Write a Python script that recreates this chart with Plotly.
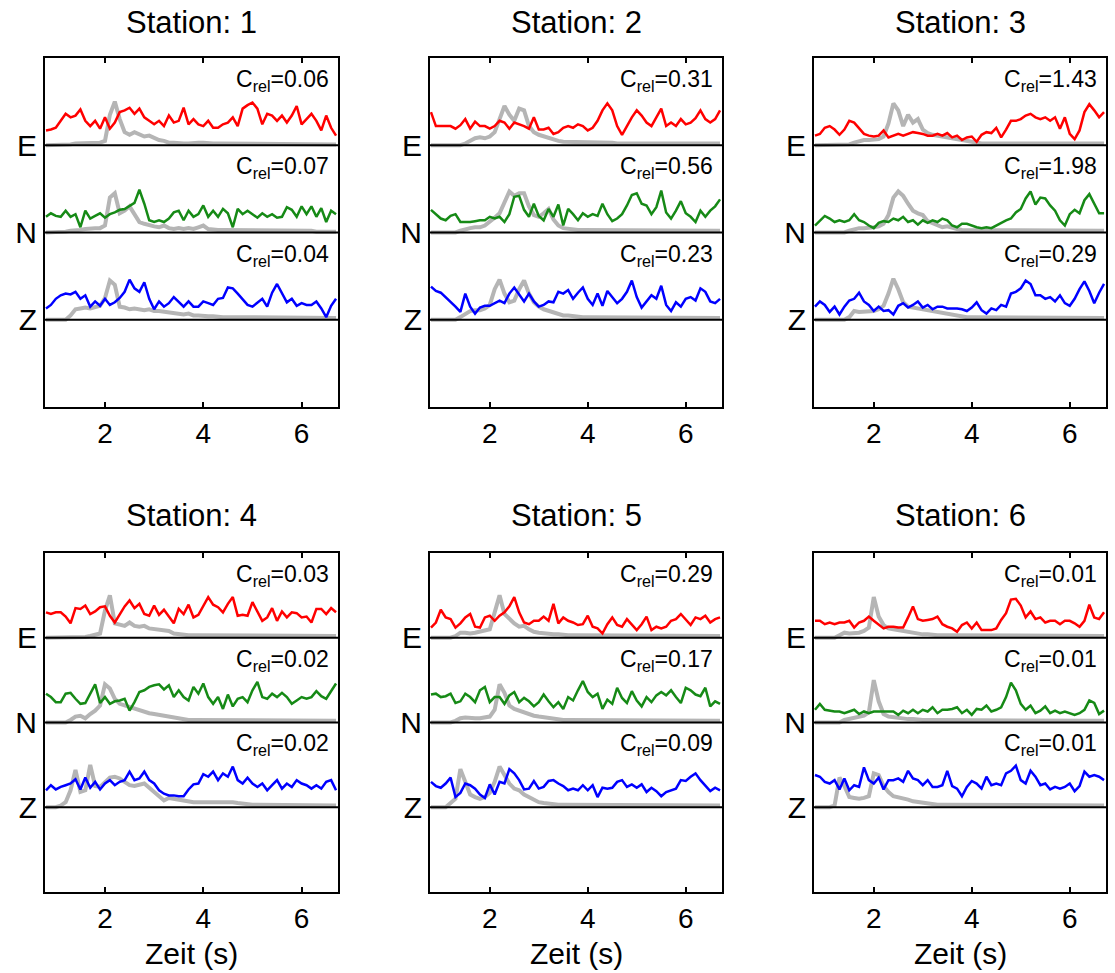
import plotly.graph_objects as go

# ---------------- data ----------------
TIME = [0.8, 0.9, 1.0, 1.1, 1.2, 1.3, 1.4, 1.5, 1.6, 1.7,
        1.8, 1.9, 2.0, 2.1, 2.2, 2.3, 2.4, 2.5, 2.6, 2.7,
        2.8, 2.9, 3.0, 3.1, 3.2, 3.3, 3.4, 3.5, 3.6, 3.7,
        3.8, 3.9, 4.0, 4.1, 4.2, 4.3, 4.4, 4.5, 4.6, 4.7,
        4.8, 4.9, 5.0, 5.1, 5.2, 5.3, 5.4, 5.5, 5.6, 5.7,
        5.8, 5.9, 6.0, 6.1, 6.2, 6.3, 6.4, 6.5, 6.6, 6.7]

STATIONS = ["1", "2", "3", "4", "5", "6"]
COMPONENTS = ["E", "N", "Z"]

C_REL_E = ["0.06", "0.31", "1.43", "0.03", "0.29", "0.01"]
C_REL_N = ["0.07", "0.56", "1.98", "0.02", "0.17", "0.01"]
C_REL_Z = ["0.04", "0.23", "0.29", "0.02", "0.09", "0.01"]

# Station 1
st1_E = [0.17,0.18,0.20,0.28,0.36,0.32,0.34,0.41,0.28,0.22, 0.28,0.19,0.32,0.19,0.26,0.38,0.40,0.43,0.36,0.42,
         0.32,0.28,0.24,0.28,0.22,0.34,0.26,0.28,0.43,0.24, 0.30,0.24,0.22,0.28,0.20,0.20,0.24,0.26,0.32,0.22,
         0.42,0.46,0.49,0.42,0.24,0.36,0.34,0.28,0.34,0.26, 0.34,0.45,0.24,0.30,0.36,0.28,0.17,0.34,0.20,0.11]
st1_E_gray = [0,0,0,0,0.01,0.01,0.02,0.02,0.02,0.02, 0.03,0.03,0.05,0.35,0.50,0.30,0.15,0.12,0.15,0.13,
              0.10,0.11,0.08,0.06,0.05,0.03,0.03,0.02,0.02,0.02, 0.03,0.03,0.03,0.02,0.02,0.02,0.02,0.02,0.02,0.02,
              0.02,0.02,0.01,0.02,0.02,0.01,0.01,0.02,0.01,0.01, 0.01,0.01,0.01,0.01,0.01,0.01,0.01,0.01,0.01,0.01]
st1_N = [0.18,0.22,0.19,0.18,0.25,0.18,0.21,0.06,0.25,0.16, 0.19,0.22,0.17,0.21,0.23,0.26,0.27,0.31,0.34,0.49,
         0.33,0.14,0.12,0.14,0.12,0.16,0.23,0.25,0.14,0.25, 0.18,0.21,0.31,0.18,0.25,0.18,0.27,0.22,0.06,0.27,
         0.21,0.25,0.21,0.17,0.22,0.18,0.21,0.17,0.18,0.29, 0.26,0.18,0.30,0.21,0.30,0.18,0.28,0.12,0.25,0.21]
st1_N_gray = [0,0,0,0,0.01,0.02,0.02,0.03,0.04,0.05, 0.05,0.05,0.08,0.40,0.45,0.22,0.25,0.30,0.20,0.12,
              0.10,0.08,0.07,0.06,0.08,0.05,0.04,0.05,0.04,0.05, 0.04,0.06,0.08,0.04,0.03,0.03,0.03,0.03,0.02,0.02,
              0.02,0.02,0.02,0.02,0.02,0.02,0.02,0.02,0.02,0.02, 0.02,0.02,0.02,0.02,0.02,0.01,0.01,0.01,0.01,0.01]
st1_Z = [0.13,0.17,0.24,0.28,0.30,0.29,0.32,0.24,0.28,0.15, 0.21,0.16,0.24,0.17,0.20,0.25,0.32,0.46,0.36,0.32,
         0.43,0.24,0.12,0.21,0.15,0.19,0.26,0.21,0.15,0.21, 0.15,0.15,0.21,0.19,0.17,0.24,0.25,0.37,0.36,0.30,
         0.24,0.17,0.15,0.19,0.24,0.15,0.31,0.41,0.31,0.20, 0.24,0.16,0.19,0.17,0.17,0.21,0.13,0.03,0.16,0.24]
st1_Z_gray = [0,0,0,0,0,0.05,0.12,0.13,0.14,0.13, 0.14,0.16,0.25,0.45,0.40,0.15,0.14,0.12,0.13,0.12,
              0.11,0.12,0.10,0.10,0.09,0.08,0.08,0.07,0.06,0.07, 0.05,0.05,0.04,0.04,0.04,0.03,0.03,0.03,0.03,0.03,
              0.03,0.03,0.03,0.03,0.03,0.03,0.03,0.03,0.03,0.03, 0.03,0.03,0.03,0.02,0.02,0.02,0.02,0.02,0.02,0.02]

# Station 2
st2_E = [0.38,0.22,0.22,0.22,0.22,0.19,0.23,0.30,0.19,0.27, 0.22,0.22,0.19,0.22,0.28,0.26,0.19,0.26,0.24,0.22,
         0.19,0.32,0.18,0.18,0.20,0.13,0.15,0.20,0.22,0.20, 0.24,0.22,0.17,0.20,0.28,0.40,0.48,0.40,0.22,0.12,
         0.22,0.32,0.40,0.34,0.26,0.22,0.32,0.42,0.22,0.26, 0.22,0.30,0.24,0.26,0.31,0.40,0.30,0.26,0.30,0.40]
st2_E_gray = [0,0,0,0,0,0,0,0.02,0.05,0.08, 0.09,0.08,0.10,0.15,0.30,0.45,0.35,0.28,0.42,0.40,
              0.22,0.15,0.12,0.10,0.08,0.06,0.05,0.04,0.04,0.03, 0.03,0.03,0.03,0.03,0.03,0.03,0.03,0.03,0.02,0.02,
              0.02,0.02,0.02,0.02,0.02,0.02,0.02,0.02,0.02,0.02, 0.02,0.02,0.02,0.02,0.02,0.02,0.02,0.02,0.02,0.02]
st2_N = [0.26,0.21,0.16,0.14,0.19,0.21,0.12,0.12,0.12,0.13, 0.14,0.14,0.18,0.16,0.18,0.12,0.21,0.41,0.42,0.26,
         0.18,0.33,0.19,0.14,0.27,0.18,0.32,0.08,0.27,0.21, 0.14,0.22,0.18,0.21,0.19,0.33,0.21,0.13,0.16,0.21,
         0.31,0.43,0.45,0.33,0.31,0.21,0.29,0.48,0.23,0.16, 0.25,0.36,0.22,0.18,0.12,0.25,0.18,0.25,0.30,0.38]
st2_N_gray = [0,0,0,0,0,0,0.02,0.04,0.05,0.06, 0.06,0.08,0.12,0.17,0.22,0.35,0.47,0.42,0.45,0.45,
              0.30,0.20,0.18,0.22,0.27,0.15,0.08,0.05,0.04,0.04, 0.03,0.03,0.03,0.03,0.03,0.03,0.03,0.03,0.03,0.03,
              0.03,0.03,0.03,0.02,0.02,0.02,0.02,0.02,0.02,0.02, 0.02,0.02,0.02,0.02,0.02,0.02,0.02,0.02,0.02,0.02]
st2_Z = [0.38,0.33,0.31,0.26,0.21,0.15,0.09,0.30,0.15,0.07, 0.14,0.16,0.16,0.19,0.22,0.19,0.30,0.37,0.29,0.21,
         0.30,0.21,0.15,0.17,0.21,0.20,0.32,0.30,0.34,0.24, 0.31,0.37,0.24,0.17,0.30,0.16,0.33,0.26,0.19,0.24,
         0.32,0.45,0.26,0.14,0.21,0.28,0.24,0.39,0.17,0.10, 0.20,0.15,0.24,0.26,0.22,0.36,0.32,0.21,0.19,0.24]
st2_Z_gray = [0,0,0,0,0,0,0.03,0.06,0.10,0.11, 0.11,0.13,0.17,0.35,0.46,0.30,0.20,0.22,0.35,0.45,
              0.30,0.20,0.15,0.12,0.10,0.08,0.06,0.05,0.05,0.04, 0.03,0.03,0.03,0.03,0.03,0.03,0.03,0.03,0.03,0.03,
              0.03,0.03,0.03,0.03,0.03,0.03,0.03,0.03,0.03,0.03, 0.03,0.03,0.03,0.03,0.02,0.02,0.02,0.02,0.02,0.02]

# Station 3
st3_E = [0.11,0.13,0.20,0.22,0.18,0.12,0.18,0.28,0.26,0.20, 0.13,0.11,0.10,0.11,0.17,0.09,0.11,0.13,0.11,0.13,
         0.15,0.14,0.13,0.11,0.11,0.13,0.11,0.14,0.09,0.11, 0.06,0.09,0.10,0.04,0.12,0.15,0.14,0.20,0.09,0.18,
         0.28,0.28,0.30,0.34,0.36,0.32,0.30,0.32,0.28,0.32, 0.19,0.32,0.13,0.07,0.17,0.38,0.47,0.40,0.32,0.38]
st3_E_gray = [0,0,0,0,0,0,0,0.01,0.03,0.05, 0.06,0.06,0.07,0.07,0.10,0.25,0.48,0.40,0.22,0.35,
              0.26,0.30,0.18,0.14,0.12,0.11,0.10,0.09,0.08,0.06, 0.05,0.04,0.03,0.03,0.02,0.02,0.02,0.02,0.02,0.02,
              0.02,0.02,0.02,0.02,0.02,0.02,0.02,0.02,0.02,0.02, 0.02,0.02,0.02,0.02,0.02,0.02,0.02,0.02,0.02,0.02]
st3_N = [0.08,0.14,0.19,0.16,0.12,0.14,0.12,0.14,0.21,0.14, 0.12,0.08,0.05,0.11,0.13,0.12,0.16,0.14,0.18,0.12,
         0.14,0.09,0.14,0.11,0.14,0.12,0.16,0.14,0.08,0.06, 0.10,0.10,0.08,0.06,0.05,0.06,0.05,0.08,0.11,0.14,
         0.16,0.23,0.27,0.39,0.47,0.32,0.40,0.39,0.31,0.25, 0.14,0.08,0.21,0.26,0.22,0.37,0.44,0.33,0.22,0.22]
st3_N_gray = [0,0,0,0,0,0,0,0.02,0.04,0.05, 0.05,0.05,0.06,0.07,0.10,0.20,0.40,0.47,0.42,0.33,
              0.25,0.22,0.20,0.13,0.11,0.08,0.06,0.07,0.05,0.04, 0.03,0.03,0.03,0.03,0.03,0.03,0.03,0.03,0.03,0.03,
              0.02,0.02,0.02,0.02,0.02,0.02,0.02,0.02,0.02,0.02, 0.02,0.02,0.02,0.02,0.02,0.02,0.02,0.02,0.02,0.02]
st3_Z = [0.15,0.21,0.17,0.09,0.15,0.06,0.15,0.22,0.24,0.31, 0.21,0.17,0.10,0.15,0.10,0.11,0.06,0.16,0.19,0.14,
         0.17,0.21,0.14,0.17,0.12,0.15,0.15,0.13,0.13,0.13, 0.12,0.10,0.14,0.20,0.11,0.07,0.13,0.11,0.17,0.15,
         0.30,0.32,0.36,0.45,0.41,0.28,0.28,0.24,0.26,0.21, 0.28,0.19,0.16,0.24,0.35,0.44,0.33,0.19,0.31,0.41]
st3_Z_gray = [0,0,0,0,0,0,0,0.03,0.10,0.09, 0.09,0.10,0.10,0.12,0.16,0.30,0.47,0.35,0.20,0.15,
              0.14,0.13,0.12,0.10,0.09,0.08,0.07,0.06,0.05,0.05, 0.04,0.03,0.03,0.03,0.03,0.03,0.03,0.03,0.03,0.03,
              0.03,0.03,0.03,0.03,0.03,0.02,0.02,0.02,0.02,0.02, 0.02,0.02,0.02,0.02,0.02,0.02,0.02,0.02,0.02,0.02]

# Station 4
st4_E = [0.30,0.28,0.30,0.30,0.25,0.17,0.35,0.34,0.38,0.28, 0.31,0.36,0.37,0.26,0.18,0.27,0.37,0.44,0.35,0.40,
         0.28,0.26,0.38,0.27,0.33,0.25,0.17,0.34,0.28,0.39, 0.24,0.27,0.37,0.48,0.39,0.36,0.30,0.40,0.48,0.26,
         0.27,0.26,0.42,0.30,0.20,0.24,0.35,0.20,0.31,0.24, 0.30,0.29,0.24,0.25,0.18,0.34,0.34,0.28,0.35,0.30]
st4_E_gray = [0,0,0,0,0,0,0,0,0.01,0.02, 0.03,0.05,0.32,0.50,0.17,0.15,0.14,0.18,0.14,0.13,
              0.14,0.11,0.10,0.09,0.09,0.08,0.05,0.04,0.04,0.03, 0.03,0.03,0.03,0.03,0.03,0.03,0.03,0.03,0.02,0.02,
              0.02,0.02,0.02,0.02,0.02,0.02,0.02,0.02,0.02,0.02, 0.02,0.02,0.02,0.02,0.02,0.02,0.02,0.02,0.02,0.02]
st4_N = [0.34,0.30,0.24,0.24,0.34,0.35,0.28,0.22,0.23,0.35, 0.45,0.23,0.30,0.22,0.25,0.26,0.28,0.14,0.24,0.36,
         0.38,0.42,0.44,0.45,0.39,0.44,0.30,0.38,0.30,0.26, 0.42,0.34,0.46,0.30,0.22,0.30,0.16,0.33,0.19,0.28,
         0.30,0.24,0.38,0.48,0.30,0.28,0.34,0.30,0.35,0.30, 0.22,0.26,0.30,0.28,0.30,0.37,0.31,0.28,0.37,0.46]
st4_N_gray = [0,0,0,0,0,0.03,0.07,0.08,0.05,0.10, 0.14,0.20,0.45,0.40,0.28,0.22,0.20,0.18,0.16,0.15,
              0.13,0.11,0.10,0.09,0.07,0.06,0.05,0.04,0.03,0.03, 0.03,0.03,0.03,0.03,0.03,0.03,0.03,0.03,0.03,0.03,
              0.02,0.02,0.02,0.02,0.02,0.02,0.02,0.02,0.02,0.02, 0.02,0.02,0.02,0.02,0.02,0.02,0.02,0.02,0.02,0.02]
st4_Z = [0.20,0.26,0.21,0.24,0.26,0.28,0.33,0.21,0.35,0.23, 0.30,0.21,0.28,0.32,0.26,0.30,0.32,0.42,0.32,0.34,
         0.42,0.32,0.28,0.20,0.16,0.14,0.14,0.13,0.13,0.21, 0.27,0.28,0.39,0.36,0.42,0.32,0.40,0.36,0.48,0.32,
         0.28,0.35,0.28,0.24,0.28,0.20,0.26,0.32,0.22,0.28, 0.24,0.32,0.28,0.26,0.22,0.26,0.22,0.30,0.32,0.20]
st4_Z_gray = [0,0,0,0.02,0.06,0.20,0.44,0.18,0.20,0.50, 0.25,0.24,0.30,0.35,0.36,0.34,0.30,0.26,0.25,0.27,
              0.28,0.23,0.18,0.13,0.08,0.11,0.10,0.08,0.08,0.07, 0.06,0.06,0.06,0.06,0.06,0.07,0.06,0.06,0.06,0.05,
              0.04,0.03,0.03,0.03,0.03,0.03,0.03,0.03,0.03,0.03, 0.03,0.03,0.03,0.03,0.02,0.02,0.02,0.02,0.02,0.02]

# Station 5
st5_E = [0.12,0.18,0.33,0.24,0.22,0.12,0.17,0.24,0.28,0.13, 0.12,0.24,0.26,0.20,0.26,0.30,0.37,0.48,0.30,0.18,
         0.16,0.20,0.20,0.25,0.20,0.40,0.17,0.24,0.20,0.18, 0.15,0.16,0.26,0.13,0.11,0.05,0.16,0.24,0.15,0.13,
         0.22,0.15,0.09,0.16,0.25,0.09,0.13,0.11,0.13,0.20, 0.22,0.28,0.22,0.15,0.24,0.22,0.26,0.18,0.22,0.24]
st5_E_gray = [0,0,0,0,0,0.02,0.06,0.06,0.05,0.06, 0.07,0.08,0.10,0.30,0.50,0.28,0.22,0.17,0.13,0.14,
              0.10,0.07,0.06,0.05,0.05,0.04,0.04,0.03,0.03,0.03, 0.03,0.03,0.03,0.03,0.03,0.03,0.03,0.03,0.03,0.03,
              0.02,0.02,0.02,0.02,0.02,0.02,0.02,0.02,0.02,0.02, 0.02,0.02,0.02,0.02,0.02,0.02,0.02,0.02,0.02,0.02]
st5_N = [0.33,0.34,0.30,0.31,0.34,0.23,0.25,0.34,0.30,0.24, 0.38,0.42,0.24,0.30,0.30,0.22,0.32,0.36,0.24,0.29,
         0.25,0.19,0.24,0.33,0.25,0.18,0.24,0.16,0.30,0.26, 0.38,0.49,0.36,0.30,0.34,0.16,0.27,0.22,0.41,0.29,
         0.23,0.37,0.26,0.19,0.30,0.24,0.32,0.36,0.32,0.38, 0.30,0.23,0.41,0.38,0.33,0.31,0.41,0.19,0.25,0.22]
st5_N_gray = [0,0,0,0,0,0.02,0.05,0.06,0.05,0.05, 0.05,0.06,0.07,0.15,0.45,0.35,0.20,0.16,0.14,0.11,
              0.10,0.08,0.07,0.06,0.05,0.04,0.03,0.03,0.03,0.03, 0.03,0.03,0.03,0.03,0.03,0.03,0.03,0.03,0.03,0.03,
              0.02,0.02,0.02,0.02,0.02,0.02,0.02,0.02,0.02,0.02, 0.02,0.02,0.02,0.02,0.02,0.02,0.02,0.02,0.02,0.02]
st5_Z = [0.30,0.25,0.23,0.28,0.35,0.12,0.17,0.28,0.26,0.22, 0.15,0.11,0.27,0.15,0.30,0.28,0.45,0.40,0.32,0.21,
         0.22,0.31,0.22,0.24,0.31,0.32,0.28,0.25,0.20,0.22, 0.20,0.26,0.20,0.26,0.12,0.23,0.22,0.23,0.30,0.32,
         0.24,0.27,0.23,0.27,0.18,0.23,0.19,0.13,0.18,0.20, 0.22,0.32,0.31,0.36,0.40,0.32,0.25,0.19,0.23,0.20]
st5_Z_gray = [0,0,0,0,0.05,0.10,0.45,0.30,0.15,0.12, 0.10,0.12,0.17,0.30,0.48,0.38,0.28,0.22,0.20,0.15,
              0.12,0.10,0.06,0.05,0.04,0.04,0.03,0.03,0.03,0.03, 0.03,0.03,0.03,0.03,0.03,0.03,0.03,0.03,0.03,0.03,
              0.03,0.03,0.03,0.03,0.02,0.02,0.02,0.02,0.02,0.02, 0.02,0.02,0.02,0.02,0.02,0.02,0.02,0.02,0.02,0.02]

# Station 6
st6_E = [0.20,0.20,0.16,0.18,0.16,0.18,0.18,0.20,0.12,0.18, 0.20,0.25,0.20,0.15,0.11,0.13,0.13,0.12,0.12,0.24,
         0.37,0.22,0.20,0.21,0.22,0.25,0.16,0.13,0.11,0.07, 0.15,0.18,0.11,0.18,0.09,0.09,0.09,0.11,0.21,0.29,
         0.45,0.46,0.38,0.24,0.31,0.22,0.24,0.18,0.20,0.20, 0.16,0.20,0.20,0.17,0.13,0.20,0.39,0.24,0.22,0.30]
st6_E_gray = [0,0,0,0,0,0.03,0.06,0.05,0.05,0.06, 0.08,0.12,0.48,0.25,0.15,0.11,0.10,0.09,0.07,0.06,
              0.05,0.05,0.04,0.04,0.03,0.03,0.03,0.03,0.03,0.03, 0.03,0.03,0.03,0.03,0.03,0.03,0.02,0.02,0.02,0.02,
              0.02,0.02,0.02,0.02,0.02,0.02,0.02,0.02,0.02,0.02, 0.02,0.02,0.02,0.02,0.02,0.02,0.02,0.02,0.02,0.02]
st6_N = [0.15,0.22,0.15,0.14,0.13,0.13,0.11,0.13,0.15,0.10, 0.13,0.11,0.13,0.13,0.13,0.13,0.13,0.09,0.14,0.11,
         0.15,0.11,0.15,0.13,0.18,0.11,0.15,0.15,0.16,0.18, 0.11,0.15,0.09,0.16,0.15,0.20,0.13,0.15,0.18,0.30,
         0.47,0.38,0.22,0.15,0.20,0.11,0.14,0.19,0.11,0.14, 0.11,0.13,0.11,0.09,0.11,0.15,0.26,0.23,0.10,0.14]
st6_N_gray = [0,0,0,0,0,0,0.03,0.04,0.06,0.07, 0.08,0.12,0.50,0.25,0.10,0.07,0.06,0.05,0.05,0.04,
              0.04,0.03,0.03,0.03,0.03,0.03,0.03,0.03,0.03,0.03, 0.03,0.03,0.03,0.03,0.03,0.03,0.02,0.02,0.02,0.02,
              0.02,0.02,0.02,0.02,0.02,0.02,0.02,0.02,0.02,0.02, 0.02,0.02,0.02,0.02,0.02,0.02,0.02,0.02,0.02,0.02]
st6_Z = [0.38,0.36,0.30,0.28,0.32,0.21,0.34,0.20,0.26,0.24, 0.47,0.32,0.28,0.35,0.21,0.32,0.32,0.34,0.30,0.43,
         0.34,0.32,0.26,0.32,0.24,0.24,0.26,0.43,0.25,0.22, 0.13,0.24,0.31,0.28,0.22,0.36,0.26,0.28,0.26,0.40,
         0.43,0.49,0.32,0.28,0.43,0.36,0.26,0.28,0.21,0.24, 0.22,0.24,0.28,0.19,0.25,0.42,0.36,0.38,0.36,0.32]
st6_Z_gray = [0,0,0,0,0.02,0.35,0.25,0.12,0.11,0.10, 0.11,0.13,0.40,0.38,0.25,0.18,0.13,0.12,0.10,0.09,
              0.07,0.06,0.05,0.04,0.03,0.03,0.03,0.03,0.03,0.03, 0.03,0.03,0.03,0.03,0.03,0.03,0.03,0.03,0.03,0.03,
              0.02,0.02,0.02,0.02,0.02,0.02,0.02,0.02,0.02,0.02, 0.02,0.02,0.02,0.02,0.02,0.02,0.02,0.02,0.02,0.02]

SIGNALS = [
    (st1_E, st1_N, st1_Z), (st2_E, st2_N, st2_Z), (st3_E, st3_N, st3_Z),
    (st4_E, st4_N, st4_Z), (st5_E, st5_N, st5_Z), (st6_E, st6_N, st6_Z),
]
REFERENCES = [
    (st1_E_gray, st1_N_gray, st1_Z_gray), (st2_E_gray, st2_N_gray, st2_Z_gray),
    (st3_E_gray, st3_N_gray, st3_Z_gray), (st4_E_gray, st4_N_gray, st4_Z_gray),
    (st5_E_gray, st5_N_gray, st5_Z_gray), (st6_E_gray, st6_N_gray, st6_Z_gray),
]
C_REL = [C_REL_E, C_REL_N, C_REL_Z]

# ---------------- styling / layout ----------------
W, H = 1115, 973
FONT = "Liberation Sans, Arial, Helvetica, sans-serif"
COLORS = ["#ff0000", "#168a16", "#0000ff"]
GRAY = "#b5b5b5"
BAND_BASE = [3, 2, 1]  # E, N, Z band bottoms

COL_PX = [(45, 338), (430, 722), (814, 1106)]
ROW_PX = [(58, 407), (553, 892)]
TITLE_Y_PX = [22, 515]
XLABEL_Y_PX = 953

fig = go.Figure()
layout = dict(
    width=W, height=H, margin=dict(l=0, r=0, t=0, b=0),
    paper_bgcolor="white", plot_bgcolor="white", showlegend=False,
    font=dict(family=FONT, color="black"),
)
annotations = []
shapes = []

for i in range(6):
    r, c = divmod(i, 3)
    n = i + 1
    xs = "" if n == 1 else str(n)
    xref, yref = "x" + xs, "y" + xs
    xd = [COL_PX[c][0] / W, COL_PX[c][1] / W]
    yd = [1 - ROW_PX[r][1] / H, 1 - ROW_PX[r][0] / H]

    for k in range(3):
        base = BAND_BASE[k]
        fig.add_trace(go.Scatter(
            x=TIME, y=[base + v for v in REFERENCES[i][k]], mode="lines",
            line=dict(color=GRAY, width=4), xaxis=xref, yaxis=yref,
            hoverinfo="skip"))
        fig.add_trace(go.Scatter(
            x=TIME, y=[base + v for v in SIGNALS[i][k]], mode="lines",
            line=dict(color=COLORS[k], width=2.5), xaxis=xref, yaxis=yref,
            hoverinfo="skip"))
        shapes.append(dict(type="line", xref=xref + " domain", yref=yref,
                           x0=0, x1=1, y0=base, y1=base,
                           line=dict(color="black", width=2), layer="above"))
        annotations.append(dict(
            xref=xref + " domain", yref=yref, x=0.975, y=base + 0.93,
            xanchor="right", yanchor="top", showarrow=False,
            text=f"C<sub>rel</sub>={C_REL[k][i]}",
            font=dict(size=23, family=FONT, color="black")))

    layout["xaxis" + xs] = dict(
        domain=xd, anchor=yref, range=[0.78, 6.74],
        tickvals=[2, 4, 6], ticks="inside", ticklen=5, tickwidth=2,
        tickcolor="black", showline=True, linewidth=2, linecolor="black",
        mirror="ticks", showgrid=False, zeroline=False,
        tickfont=dict(size=28, family=FONT, color="black"))
    layout["yaxis" + xs] = dict(
        domain=yd, anchor=xref, range=[0, 4],
        tickvals=[3, 2, 1], ticktext=["E", "N", "Z"], ticks="",
        showline=True, linewidth=2, linecolor="black", mirror=True,
        showgrid=False, zeroline=False,
        tickfont=dict(size=30, family=FONT, color="black"))

    xc = (COL_PX[c][0] + COL_PX[c][1]) / 2 / W
    annotations.append(dict(
        xref="paper", yref="paper", x=xc, y=1 - TITLE_Y_PX[r] / H,
        xanchor="center", yanchor="middle", showarrow=False,
        text=f"Station: {STATIONS[i]}",
        font=dict(size=31, family=FONT, color="black")))
    if r == 1:
        annotations.append(dict(
            xref="paper", yref="paper", x=xc, y=1 - XLABEL_Y_PX / H,
            xanchor="center", yanchor="middle", showarrow=False,
            text="Zeit (s)", font=dict(size=30, family=FONT, color="black")))

layout["annotations"] = annotations
layout["shapes"] = shapes
fig.update_layout(**layout)
fig.write_html("out.html")
